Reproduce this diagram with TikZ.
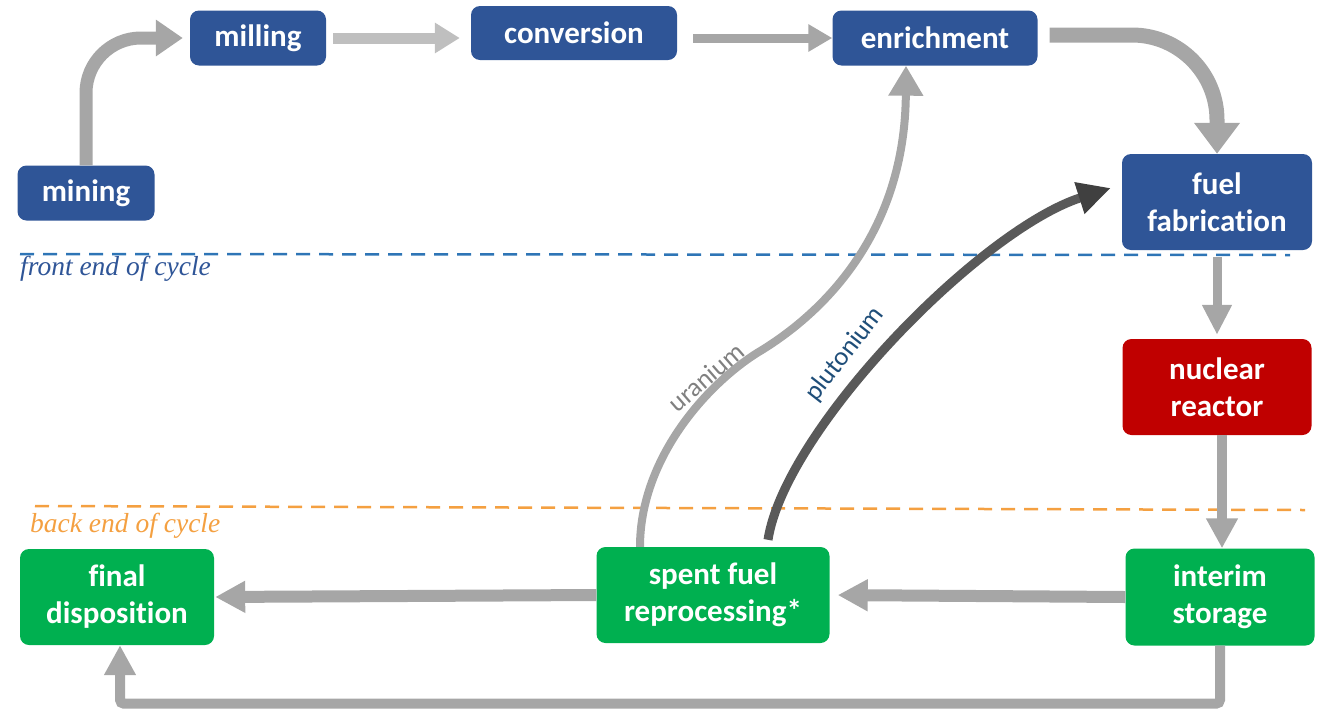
\documentclass[tikz,border=0pt]{standalone}
\usepackage{fontspec}
\setmainfont{Carlito}[Ligatures=NoCommon]
\newfontfamily\cyclefont{Liberation Serif}
\usetikzlibrary{arrows.meta}

\definecolor{stageblue}{HTML}{2F5597}
\definecolor{stagered}{HTML}{C00000}
\definecolor{stagegreen}{HTML}{00B050}
\definecolor{flowgray}{HTML}{A6A6A6}
\definecolor{flowlight}{HTML}{BFBFBF}
\definecolor{pugray}{HTML}{595959}
\definecolor{pudark}{HTML}{404040}
\definecolor{pulabel}{HTML}{1F4E79}
\definecolor{frontline}{HTML}{2E75B6}
\definecolor{frontlabel}{HTML}{2F5597}
\definecolor{backline}{HTML}{F4A041}

\begin{document}
\begin{tikzpicture}[x=1pt, y=-1pt,
    % boxes for the stages of the cycle
    stage/.style={
        rounded corners=9pt,
        text=white,
        align=center,
        inner sep=0pt,
        font=\bfseries\fontsize{31}{37}\selectfont
    },
    frontstage/.style={stage, fill=stageblue},
    reactorstage/.style={stage, fill=stagered},
    backstage/.style={stage, fill=stagegreen},
    % thick grey flow arrows
    flow/.style={
        draw=flowgray,
        line width=10pt,
        -{Triangle[width=30pt, length=30pt]}
    },
    boundary/.style={line width=2.5pt, dash pattern=on 14pt off 9pt},
    cyclelabel/.style={anchor=base west, inner sep=0pt,
        font=\cyclefont\itshape\fontsize{27.5}{30}\selectfont},
    pathlabel/.style={inner sep=0pt, font=\fontsize{26.5}{30}\selectfont}
]
\useasboundingbox (0,0) rectangle (1327,710);

% 1. Front end and back end boundaries
\draw[boundary, frontline] (20,254) -- (1290,255);
\node[cyclelabel, frontlabel] (frontlbl) at (20,275) {front end of cycle};
\draw[boundary, backline] (35,506) -- (1305,510);
\node[cyclelabel, backline] (backlbl) at (30,532) {back end of cycle};

% 2. Stages
\node[frontstage, minimum width=137pt, minimum height=55pt] (mining) at (86,193) {mining};
\node[frontstage, minimum width=136pt, minimum height=55pt] (milling) at (258,38) {milling};
\node[frontstage, minimum width=206pt, minimum height=54pt] (conversion) at (574,33) {conversion};
\node[frontstage, minimum width=205pt, minimum height=55pt] (enrichment) at (935,38) {enrichment};
\node[frontstage, minimum width=190pt, minimum height=96pt] (fuelfab) at (1217,202) {fuel\\fabrication};
\node[reactorstage, minimum width=189pt, minimum height=96pt] (reactor) at (1217,387) {nuclear\\reactor};
\node[backstage, minimum width=189pt, minimum height=97pt] (interim) at (1220,597) {interim\\storage};
\node[backstage, minimum width=233pt, minimum height=96pt] (spent) at (713,595) {spent fuel\\reprocessing*};
\node[backstage, minimum width=194pt, minimum height=96pt] (final) at (117,597) {final\\disposition};

% 3. Front end flow
\draw[flow, line width=13pt, -{Triangle[width=35pt, length=27pt]},
    rounded corners=55pt, shorten >=7pt] (mining.north) |- (milling.west);
\draw[flow, draw=flowlight, line width=11pt, -{Triangle[width=29pt, length=25pt]},
    shorten <=7pt, shorten >=11pt] (milling.east) -- (milling.east -| conversion.west);
\draw[flow, line width=9pt, -{Triangle[width=26pt, length=24pt]},
    shorten <=16pt] ([yshift=-5pt]conversion.east) -- (enrichment.west);
\draw[flow, line width=15pt, -{Triangle[width=44pt, length=31pt]},
    rounded corners=85pt, shorten <=12pt] ([yshift=3pt]enrichment.east) -| (fuelfab.north);
\draw[flow, line width=9pt, -{Triangle[width=28pt, length=30pt]},
    shorten <=7pt, shorten >=4pt] (fuelfab.south) -- (reactor.north);

% 4. Back end flow
\draw[flow] ([xshift=5pt]reactor.south) -- ([xshift=2pt]interim.north);
\draw[flow, line width=12pt, shorten >=8pt] (interim.west) -- (spent.east);
\draw[flow, line width=12pt, shorten >=1pt] (spent.west) -- (final.east);
\draw[flow, rounded corners=4pt] (interim.south) -- ++(0,58) -| ([xshift=3pt]final.south);

% 5. Recycled uranium and plutonium
\coordinate (ubend) at (757,353);
\draw[flow, line width=8pt, -{Triangle[width=33pt, length=30pt]}]
    ([xshift=-73pt]spent.north) .. controls +(0,-87) and +(-52,33) .. (ubend)
    .. controls +(69,-41) and +(-1,165) .. ([xshift=-29pt]enrichment.south);
\draw[pugray, line width=9pt, -{Triangle[width=31pt, length=33pt, color=pudark]}]
    ([xshift=55pt, yshift=7pt]spent.north) .. controls +(17,-110) and +(-131,42) ..
    ([xshift=-11pt, yshift=14pt]fuelfab.west);
\node[pathlabel, text=gray, rotate=41] (ulbl) at (706,377) {uranium};
\node[pathlabel, text=pulabel, rotate=52] (pulbl) at (845,354) {plutonium};

\end{tikzpicture}
\end{document}
